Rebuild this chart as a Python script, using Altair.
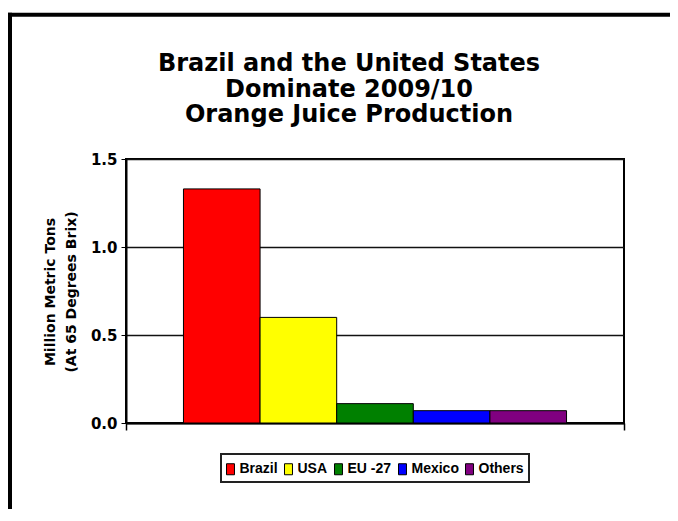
import altair as alt
import pandas as pd

# ---- data ----
SEASON = "2009/10"
COUNTRIES = ["Brazil", "USA", "EU -27", "Mexico", "Others"]
VALUES = [1.33, 0.60, 0.11, 0.07, 0.07]
COLORS = ["#FF0000", "#FFFF00", "#008000", "#0000FF", "#800080"]
Y_TICKS = [0.0, 0.5, 1.0, 1.5]
TITLE_LINES = ["Brazil and the United States", "Dominate 2009/10", "Orange Juice Production"]
Y_TITLE = ["Million Metric Tons", "(At 65 Degrees Brix)"]

df = pd.DataFrame({"season": [SEASON] * len(COUNTRIES), "country": COUNTRIES, "value": VALUES})

W, H = 498, 264
BOLD = "DejaVu Sans"

bars = alt.Chart(df).mark_bar(stroke="black", strokeWidth=1).encode(
    x=alt.X("season:N", title=None,
            scale=alt.Scale(paddingInner=0, paddingOuter=0),
            axis=alt.Axis(labels=False, tickBand="extent", tickSize=7, tickWidth=1.5,
                          tickColor="black", domainColor="black", domainWidth=2, grid=False)),
    xOffset=alt.XOffset("country:N", sort=COUNTRIES,
                        scale=alt.Scale(paddingInner=0, paddingOuter=0.75)),
    y=alt.Y("value:Q",
            scale=alt.Scale(domain=[0, 1.5], nice=False),
            axis=alt.Axis(values=Y_TICKS, format=".1f", title=Y_TITLE,
                          labelFont=BOLD, labelFontSize=15, labelFontWeight="bold",
                          labelColor="black", labelPadding=4,
                          tickSize=5, tickColor="black", tickWidth=1,
                          domainColor="black", domainWidth=2,
                          grid=True, gridColor="#111", gridWidth=1.3, gridOpacity=1,
                          titleFont=BOLD, titleFontSize=14, titleFontWeight="bold",
                          titleColor="black", titleAngle=270, titleX=-71.7, titleY=132.5,
                          titleAlign="center", titleBaseline="alphabetic",
                          titleLineHeight=21)),
    color=alt.Color("country:N", sort=COUNTRIES,
                    scale=alt.Scale(domain=COUNTRIES, range=COLORS),
                    legend=alt.Legend(title=None, orient="none", legendX=95, legendY=295,
                                      direction="horizontal", padding=5,
                                      strokeColor="#222",
                                      symbolType="M-1,-0.58H-0.16V0.58H-1Z",
                                      symbolSize=361, symbolStrokeColor="black",
                                      symbolStrokeWidth=1, symbolOpacity=1,
                                      labelOffset={"expr": "-6.5"}, columnPadding=4,
                                      labelFont="Liberation Sans", labelFontSize=14,
                                      labelFontWeight="bold", labelColor="black")),
)

title = alt.Chart(alt.Data(values=[{}])).mark_text(
    font=BOLD, fontSize=24, fontWeight="bold", align="center",
    baseline="alphabetic", lineHeight=25.5, color="black"
).encode(x=alt.value(223), y=alt.value(-87.7), text=alt.value(TITLE_LINES))

frame_v = alt.Chart(alt.Data(values=[{}])).mark_rule(color="black", strokeWidth=4).encode(
    x=alt.value(-116), y=alt.value(-146.2), y2=alt.value(700))
frame_h = alt.Chart(alt.Data(values=[{}])).mark_rule(color="black", strokeWidth=4).encode(
    x=alt.value(-118), x2=alt.value(800), y=alt.value(-144.2))

chart = alt.layer(bars, title, frame_v, frame_h).properties(
    width=W, height=H,
    padding={"left": 118, "top": 151, "right": 46, "bottom": 86},
    autosize=alt.AutoSizeParams(type="none"),
    background="white",
).configure_view(stroke="black", strokeWidth=2).configure_legend(strokeWidth=2)

chart.save("out.html", embed_options={"renderer": "svg", "actions": False})
